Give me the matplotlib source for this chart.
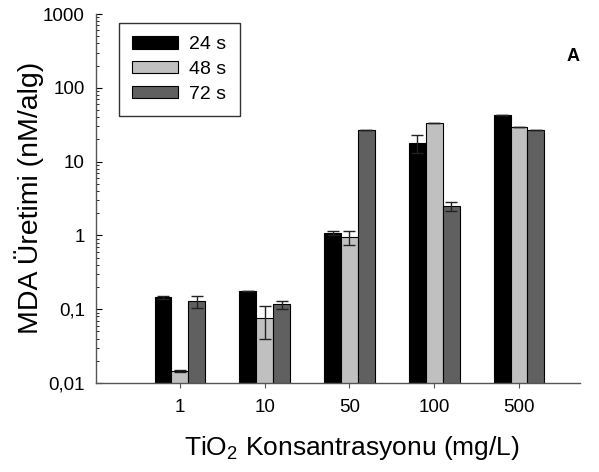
import matplotlib
matplotlib.use("Agg")
import matplotlib.pyplot as plt
import numpy as np
from matplotlib.ticker import FixedLocator, LogLocator, NullFormatter

plt.rcParams["font.family"] = ["Liberation Sans", "DejaVu Sans"]

categories = ["1", "10", "50", "100", "500"]
series_labels = ["24 s", "48 s", "72 s"]
colors = ["#000000", "#c0c0c0", "#606060"]

vals_24 = [0.145, 0.178, 1.07, 18.0, 43.0]
err_24 = [0.006, 0.0, 0.06, 5.0, 0.0]
vals_48 = [0.0146, 0.075, 0.95, 33.0, 29.5]
err_48 = [0.0004, 0.035, 0.2, 0.0, 0.0]
vals_72 = [0.128, 0.116, 26.5, 2.5, 26.5]
err_72 = [0.023, 0.014, 0.0, 0.34, 0.0]

values = [vals_24, vals_48, vals_72]
errors = [err_24, err_48, err_72]

fig = plt.figure(figsize=(5.99, 4.72), dpi=100)
ax = fig.add_axes([0.1603, 0.1886, 0.808, 0.7817])

x = np.arange(len(categories))
width = 0.2
for i, (vals, errs) in enumerate(zip(values, errors)):
    ax.bar(x + (i - 1) * width, vals, width=width, color=colors[i],
           edgecolor="#000000", linewidth=0.8, label=series_labels[i], zorder=2)
    ax.errorbar(x + (i - 1) * width, vals, yerr=errs, fmt="none",
                ecolor="#222222", elinewidth=1.0, capsize=4, capthick=1.0, zorder=3)

ax.set_yscale("log")
ax.set_ylim(0.01, 1000)
ax.set_xlim(-0.99, 4.72)

major = [0.01, 0.1, 1, 10, 100, 1000]
ax.yaxis.set_major_locator(FixedLocator(major))
ax.set_yticklabels(["0,01", "0,1", "1", "10", "100", "1000"], fontsize=13.5)
ax.yaxis.set_minor_locator(LogLocator(base=10, subs=np.arange(2, 10), numticks=20))
ax.yaxis.set_minor_formatter(NullFormatter())
ax.tick_params(axis="y", which="major", direction="in", length=4, width=0.8, pad=8)
ax.tick_params(axis="y", which="minor", direction="in", length=2.5, width=0.6)

ax.set_xticks(x)
ax.set_xticklabels(categories, fontsize=13.5)
ax.tick_params(axis="x", direction="out", length=3.5, width=0.8, pad=8, color="#555555")

for side in ["top", "right"]:
    ax.spines[side].set_visible(False)
for side in ["left", "bottom"]:
    ax.spines[side].set_color("#555555")
    ax.spines[side].set_linewidth(1.0)

ax.set_ylabel("MDA Üretimi (nM/alg)", fontsize=20.5, va="center")
ax.yaxis.set_label_coords(-0.138, 0.503)
ax.set_xlabel("TiO$_\\mathregular{2}$ Konsantrasyonu (mg/L)", fontsize=19, va="center")
ax.xaxis.set_label_coords(0.528, -0.176)

leg = ax.legend(loc="upper left", bbox_to_anchor=(0.048, 0.975), borderaxespad=0,
                fontsize=14, frameon=True, fancybox=False, edgecolor="#000000",
                handlelength=2.32, handleheight=0.6, labelspacing=0.39,
                borderpad=0.68, handletextpad=0.6)
leg.get_frame().set_linewidth(1.0)

ax.text(1.0, 0.885, "A", transform=ax.transAxes, fontsize=13,
        fontweight="bold", ha="right", va="center")

fig.savefig("out.png", dpi=100)
